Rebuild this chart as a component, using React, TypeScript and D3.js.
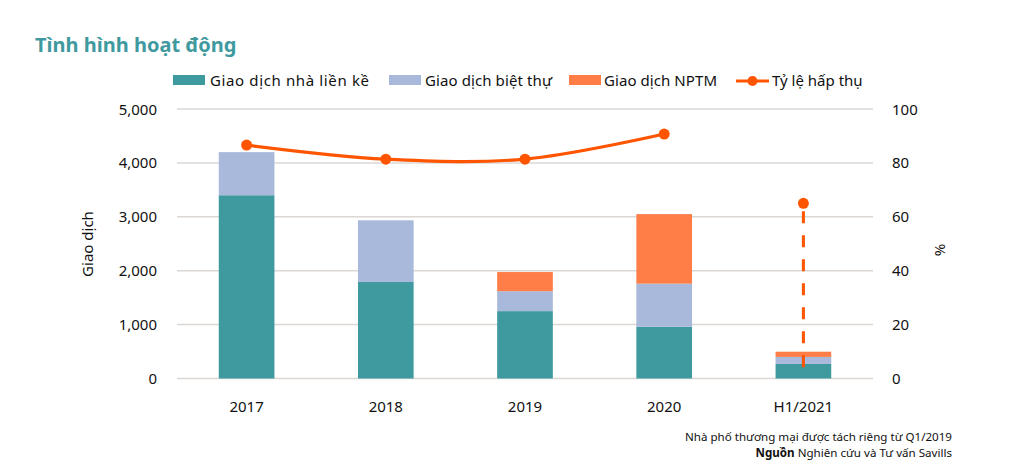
import React from 'react';
import * as d3 from 'd3';

const categories = ['2017', '2018', '2019', '2020', 'H1/2021'];
const townhouse = [3400, 1790, 1250, 960, 270];
const villa = [800, 1145, 370, 800, 130];
const nptm = [0, 0, 355, 1290, 97];
const absorption = [86.6, 81.4, 81.4, 90.7, 65];
const stemBottom = 2.5; // % where dashed stem of H1/2021 ends
const leftTicks = [0, 1000, 2000, 3000, 4000, 5000];
const rightTicks = [0, 20, 40, 60, 80, 100];
const seriesNames = ['Giao dịch nhà liền kề', 'Giao dịch biệt thự', 'Giao dịch NPTM'];
const lineName = 'Tỷ lệ hấp thụ';

const COLORS = ['#3F9A9F', '#A9B9DB', '#FF7E47'];
const LINE = '#FF5500';
const GRID = '#DCD7D3';
const FONT = '"Noto Sans", "Open Sans", sans-serif';
const TXT = '#111';

export default function App() {
  const W = 1019, H = 473;
  const x = d3.scaleBand<string>().domain(categories).range([177, 873]).paddingInner(0.6).paddingOuter(0.3);
  const yL = d3.scaleLinear().domain([0, 5000]).range([378.5, 109]);
  const yR = d3.scaleLinear().domain([0, 100]).range([378.5, 109]);

  const rows = categories.map((c, i) => ({ cat: c, a: townhouse[i], b: villa[i], c2: nptm[i] }));
  const stack = d3.stack<any>().keys(['a', 'b', 'c2'])(rows);

  const cx = (c: string) => (x(c) as number) + x.bandwidth() / 2;
  const linePts = categories.slice(0, 4).map((c, i) => [cx(c), yR(absorption[i])] as [number, number]);
  const lineGen = d3.line().curve(d3.curveCatmullRom.alpha(0.5));
  const lastCat = categories[4];

  const legendItems = [
    { sx: 173, tx: 210, i: 0, len: 159 },
    { sx: 389, tx: 425, i: 1, len: 127 },
    { sx: 569, tx: 604, i: 2, len: 113 },
  ];

  return (
    <svg width={W} height={H} style={{ display: 'block', position: 'absolute', left: 0, top: 0 }} fontFamily={FONT}>
      <rect width={W} height={H} fill="#fff" />
      <text x={35} y={52} fontSize={20} fontWeight={700} fill="#3F9A9F">Tình hình hoạt động</text>

      {/* legend */}
      {legendItems.map((l) => (
        <g key={l.i}>
          <rect x={l.sx} y={75} width={32} height={10} fill={COLORS[l.i]} />
          <text x={l.tx} y={86} fontSize={15} fill={TXT} textLength={l.len} lengthAdjust="spacing">{seriesNames[l.i]}</text>
        </g>
      ))}
      <line x1={736} x2={769} y1={81} y2={81} stroke={LINE} strokeWidth={3} />
      <circle cx={752.5} cy={81} r={5} fill={LINE} />
      <text x={772} y={86} fontSize={15} fill={TXT}>{lineName}</text>

      {/* grid */}
      {leftTicks.map((t) => (
        <line key={t} x1={177} x2={873} y1={yL(t)} y2={yL(t)} stroke={GRID} strokeWidth={1.5} />
      ))}
      {leftTicks.map((t) => (
        <text key={'l' + t} x={157} y={yL(t) + 5.5} textAnchor="end" fontSize={15} fill={TXT}>{d3.format(',')(t)}</text>
      ))}
      {rightTicks.map((t) => (
        <text key={'r' + t} x={892} y={yR(t) + 5.5} textAnchor="start" fontSize={15} fill={TXT}>{t}</text>
      ))}
      <text transform={`translate(93,244) rotate(-90)`} textAnchor="middle" fontSize={15} fill={TXT}>Giao dịch</text>
      <text transform={`translate(935,250) rotate(90)`} textAnchor="middle" fontSize={15} fill={TXT}>%</text>

      {/* bars */}
      {stack.map((s, si) => (
        <g key={si} fill={COLORS[si]}>
          {s.map((d: any, i: number) => (
            d[1] - d[0] > 0 ? (
              <rect key={i} x={x(categories[i])} width={x.bandwidth()} y={yL(d[1])} height={yL(d[0]) - yL(d[1])} />
            ) : null
          ))}
        </g>
      ))}

      {/* x labels */}
      {categories.map((c) => (
        <text key={c} x={cx(c)} y={412} textAnchor="middle" fontSize={15} fill={TXT}>{c}</text>
      ))}

      {/* absorption line */}
      <path d={lineGen(linePts) as string} fill="none" stroke={LINE} strokeWidth={3.2} />
      {linePts.map((p, i) => (
        <circle key={i} cx={p[0]} cy={p[1]} r={5.5} fill={LINE} />
      ))}
      <line x1={cx(lastCat)} x2={cx(lastCat)} y1={yR(absorption[4]) + 8} y2={yR(stemBottom)} stroke={LINE} strokeWidth={3} strokeDasharray="12,12" />
      <circle cx={cx(lastCat)} cy={yR(absorption[4])} r={5.5} fill={LINE} />

      {/* footnote */}
      <text x={952} y={441} textAnchor="end" fontSize={11.6} fill={TXT}>Nhà phố thương mại được tách riêng từ Q1/2019</text>
      <text x={952} y={457} textAnchor="end" fontSize={11.6} fill={TXT}>
        <tspan fontWeight={700}>Nguồn</tspan> Nghiên cứu và Tư vấn Savills
      </text>
    </svg>
  );
}
